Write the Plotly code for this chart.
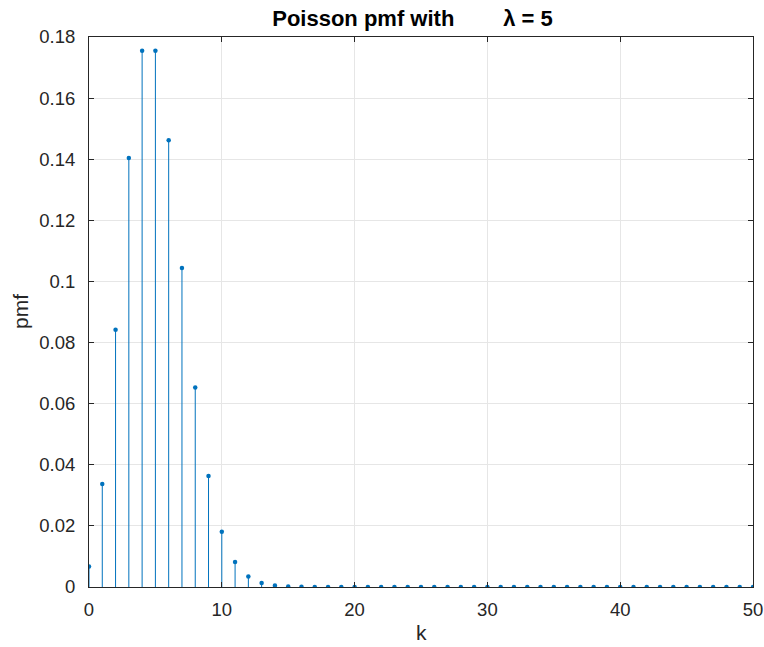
import plotly.graph_objects as go

k = list(range(0, 51))
pmf = [0.0067, 0.0337, 0.0842, 0.1404, 0.1755, 0.1755, 0.1462, 0.1044, 0.0653, 0.0363,
       0.0181, 0.0082, 0.0034, 0.0013, 0.0005, 0.0002, 0.0001, 0.0, 0.0, 0.0,
       0.0, 0.0, 0.0, 0.0, 0.0, 0.0, 0.0, 0.0, 0.0, 0.0,
       0.0, 0.0, 0.0, 0.0, 0.0, 0.0, 0.0, 0.0, 0.0, 0.0,
       0.0, 0.0, 0.0, 0.0, 0.0, 0.0, 0.0, 0.0, 0.0, 0.0, 0.0]
x_ticks = [0, 10, 20, 30, 40, 50]
y_ticks = [0, 0.02, 0.04, 0.06, 0.08, 0.1, 0.12, 0.14, 0.16, 0.18]
y_tick_text = ["0", "0.02", "0.04", "0.06", "0.08", "0.1", "0.12", "0.14", "0.16", "0.18"]

color = "#0072BD"
axc = "#262626"
FONT = "Liberation Sans, Arial, Helvetica"

stem_x, stem_y = [], []
for xi, yi in zip(k, pmf):
    stem_x += [xi, xi, None]
    stem_y += [0, yi, None]

fig = go.Figure()
fig.add_trace(go.Scatter(x=stem_x, y=stem_y, mode="lines",
                         line=dict(color=color, width=1), hoverinfo="skip", showlegend=False))
fig.add_trace(go.Scatter(x=k, y=pmf, mode="markers",
                         marker=dict(color=color, size=4.5), showlegend=False))

axis_common = dict(showline=True, linecolor=axc, linewidth=1, mirror="ticks",
                   ticks="inside", ticklen=5, tickcolor=axc, automargin=False,
                   showgrid=True, gridcolor="#e6e6e6", gridwidth=1, zeroline=False,
                   tickfont=dict(family=FONT, size=18.5, color=axc))

fig.update_xaxes(range=[0, 50], tickvals=x_ticks, ticklabelstandoff=6, **axis_common)
fig.update_yaxes(range=[0, 0.18], tickvals=y_ticks, ticktext=y_tick_text, ticklabelstandoff=9,
                 **axis_common)

fig.add_annotation(text="k", xref="paper", yref="paper", x=0.5, y=-45 / 550,
                   xanchor="center", yanchor="middle", showarrow=False,
                   font=dict(family=FONT, size=21, color=axc))
fig.add_annotation(text="pmf", xref="paper", yref="paper", x=-69 / 664, y=0.5,
                   xanchor="center", yanchor="middle", textangle=-90, showarrow=False,
                   font=dict(family=FONT, size=21, color=axc))

fig.update_layout(
    width=764, height=647,
    margin=dict(l=89, r=11, t=37, b=60),
    paper_bgcolor="white", plot_bgcolor="white",
    title=dict(text="<b>Poisson pmf with        λ = 5</b>", x=412.5 / 764, xanchor="center",
               y=1 - 18 / 647, yanchor="middle",
               font=dict(family=FONT, size=22, color="black")),
)

fig.write_html("out.html")
